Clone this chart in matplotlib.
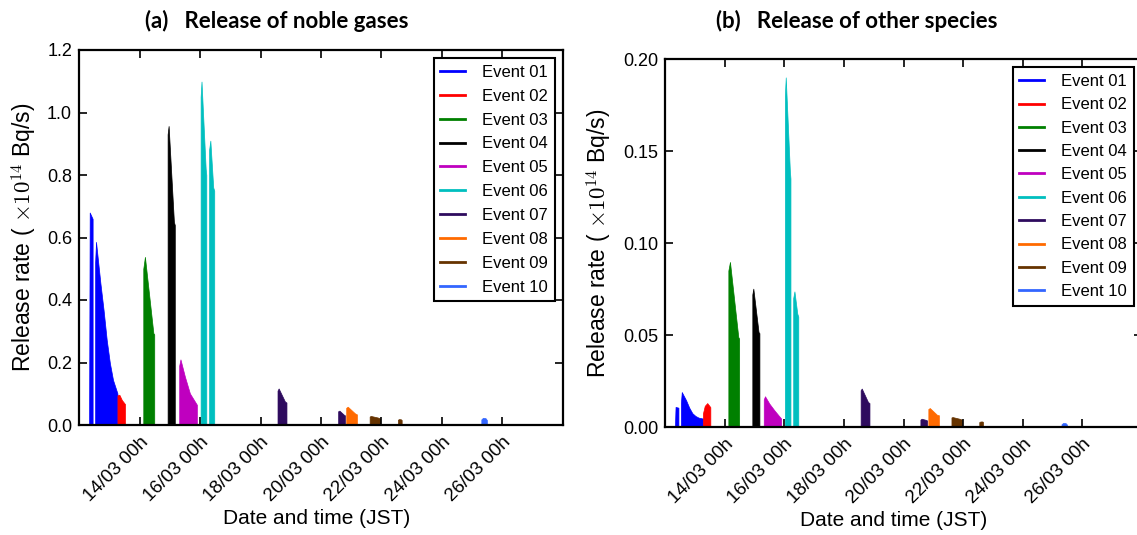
import matplotlib
matplotlib.use('Agg')
import matplotlib.pyplot as plt
from matplotlib.lines import Line2D
from matplotlib.transforms import ScaledTranslation

plt.rcParams['font.family'] = ['Liberation Sans', 'DejaVu Sans']
plt.rcParams['mathtext.fontset'] = 'cm'

# ---------------- data ----------------
event_labels = ['Event 01', 'Event 02', 'Event 03', 'Event 04', 'Event 05',
                'Event 06', 'Event 07', 'Event 08', 'Event 09', 'Event 10']
event_colors = ['#0000FF', '#FF0000', '#008000', '#000000', '#BF00BF',
                '#00BFBF', '#2E0B5E', '#FF6A00', '#663300', '#3366FF']

# x axis: hours since 12/03 00h (JST)
tick_hours = [0, 48, 96, 144, 192, 240, 288, 336, 384]
tick_labels = ['', '14/03 00h', '16/03 00h', '18/03 00h', '20/03 00h',
               '22/03 00h', '24/03 00h', '26/03 00h', '']

noble_yticks = [0.0, 0.2, 0.4, 0.6, 0.8, 1.0, 1.2]
other_yticks = [0.00, 0.05, 0.10, 0.15, 0.20]

# Event 01
ev01_t = [8.0, 8.5, 10.8, 10.8, 12.8, 12.8, 13.5, 17.0, 19.5, 22.0, 24.5, 27.0, 30.5, 30.5]
ev01_noble = [0, 0.68, 0.66, 0, 0, 0.52, 0.586, 0.453, 0.368, 0.272, 0.198, 0.144, 0.101, 0]
ev01_other = [0, 0.0109, 0.0105, 0, 0, 0.013, 0.019, 0.0145, 0.0105, 0.0075, 0.0060, 0.0051, 0.0046, 0]
# Event 02
ev02_t = [30.5, 30.5, 32.0, 34.0, 36.5, 36.5]
ev02_noble = [0, 0.095, 0.097, 0.080, 0.067, 0]
ev02_other = [0, 0.0073, 0.0115, 0.0130, 0.0108, 0]
# Event 03
ev03_t = [51.0, 51.0, 52.3, 59.0, 59.7, 59.7]
ev03_noble = [0, 0.50, 0.538, 0.294, 0.29, 0]
ev03_other = [0, 0.085, 0.0897, 0.0489, 0.048, 0]
# Event 04
ev04_t = [70.3, 70.3, 71.1, 75.3, 76.0, 76.0]
ev04_noble = [0, 0.93, 0.957, 0.65, 0.64, 0]
ev04_other = [0, 0.072, 0.0752, 0.0516, 0.051, 0]
# Event 05
ev05_t = [79.5, 79.5, 80.5, 84.0, 88.0, 93.5, 93.5]
ev05_noble = [0, 0.19, 0.21, 0.155, 0.101, 0.065, 0]
ev05_other = [0, 0.015, 0.0167, 0.0127, 0.0091, 0.0046, 0]
# Event 06
ev06_t = [96.5, 96.5, 97.2, 100.5, 101.0, 101.0, 103.2, 103.2, 104.2, 106.5, 107.3, 107.3]
ev06_noble = [0, 1.05, 1.099, 0.82, 0.80, 0, 0, 0.88, 0.91, 0.76, 0.75, 0]
ev06_other = [0, 0.18, 0.190, 0.1395, 0.135, 0, 0, 0.070, 0.0737, 0.0616, 0.060, 0]
# Event 07
ev07_t = [157.5, 157.5, 158.4, 163.4, 164.6, 164.6, 205.6, 205.6, 206.6, 210.4, 211.0, 211.0]
ev07_noble = [0, 0.11, 0.117, 0.075, 0.072, 0, 0, 0.044, 0.046, 0.032, 0.031, 0]
ev07_other = [0, 0.020, 0.0209, 0.0136, 0.013, 0, 0, 0.0040, 0.0045, 0.0038, 0.0035, 0]
# Event 08
ev08_t = [212.0, 212.0, 213.2, 219.0, 220.5, 220.5]
ev08_noble = [0, 0.055, 0.0586, 0.037, 0.034, 0]
ev08_other = [0, 0.0098, 0.0103, 0.0066, 0.0064, 0]
# Event 09
ev09_t = [230.6, 230.6, 231.5, 237.0, 239.0, 239.0, 253.0, 253.0, 254.0, 255.5, 256.0, 256.0]
ev09_noble = [0, 0.027, 0.029, 0.024, 0.021, 0, 0, 0.017, 0.019, 0.018, 0.016, 0]
ev09_other = [0, 0.0052, 0.0054, 0.0045, 0.0040, 0, 0, 0.0027, 0.0030, 0.0030, 0.0027, 0]
# Event 10
ev10_t = [319.2, 319.2, 320.5, 322.5, 323.6, 323.6]
ev10_noble = [0, 0.018, 0.023, 0.022, 0.016, 0]
ev10_other = [0, 0.0015, 0.0022, 0.0021, 0.0013, 0]

event_times = [ev01_t, ev02_t, ev03_t, ev04_t, ev05_t, ev06_t, ev07_t, ev08_t, ev09_t, ev10_t]
noble_values = [ev01_noble, ev02_noble, ev03_noble, ev04_noble, ev05_noble,
                ev06_noble, ev07_noble, ev08_noble, ev09_noble, ev10_noble]
other_values = [ev01_other, ev02_other, ev03_other, ev04_other, ev05_other,
                ev06_other, ev07_other, ev08_other, ev09_other, ev10_other]

# ---------------- figure ----------------
W, H = 1137, 535
fig = plt.figure(figsize=(W / 100, H / 100), dpi=100)
ax1 = fig.add_axes([79 / W, 1 - 425 / H, (563 - 79) / W, (425 - 50) / H])
ax2 = fig.add_axes([665 / W, 1 - 427 / H, (1142 - 665) / W, (427 - 59) / H])


def draw(ax, values, yticks, yfmt, ymax, xlab_x, lspace):
    for t, v, c in zip(event_times, values, event_colors):
        ax.fill_between(t, v, 0, color=c, edgecolor=c, linewidth=0.5, zorder=1)
    ax.set_xlim(tick_hours[0], tick_hours[-1])
    ax.set_ylim(0, ymax)
    ax.set_xticks(tick_hours)
    ax.set_xticklabels(tick_labels, rotation=45, ha='right', va='top',
                       rotation_mode='anchor', fontsize=13.5)
    off = ScaledTranslation(-0.11, -0.01, fig.dpi_scale_trans)
    for lab in ax.get_xticklabels():
        lab.set_transform(lab.get_transform() + off)
    ax.set_yticks(yticks)
    ax.set_yticklabels([yfmt.format(y) for y in yticks], fontsize=13)
    ax.tick_params(direction='in', length=6, width=1.2, top=True, right=True,
                   color='black', pad=5)
    ax.tick_params(axis='x', pad=6)
    for s in ax.spines.values():
        s.set_linewidth(1.6)
        s.set_color('black')
    ax.set_xlabel('Date and time (JST)', fontsize=15, labelpad=3)
    ax.xaxis.get_label().set_x(xlab_x)
    ax.set_ylabel(r'Release rate ( $\times10^{14}$ Bq/s)', fontsize=16.5, labelpad=6)
    handles = [Line2D([0], [0], color=c, lw=2) for c in event_colors]
    leg = ax.legend(handles, event_labels, loc='upper right', fontsize=12,
                    frameon=True, fancybox=False, framealpha=1, edgecolor='black',
                    handlelength=1.5, handletextpad=1.0, labelspacing=lspace,
                    borderpad=0.4, borderaxespad=0.5)
    leg.get_frame().set_linewidth(1.5)


draw(ax1, noble_values, noble_yticks, '{:.1f}', 1.2, 0.49, 0.53)
draw(ax2, other_values, other_yticks, '{:.2f}', 0.2, 0.48, 0.50)

fig.text(277 / W, 1 - 21 / H, '(a)   Release of noble gases', ha='center', va='center',
         fontsize=16, fontweight='bold', family='Lato')
fig.text(857 / W, 1 - 21 / H, '(b)   Release of other species', ha='center', va='center',
         fontsize=16, fontweight='bold', family='Lato')

fig.savefig('out.png', dpi=100)
